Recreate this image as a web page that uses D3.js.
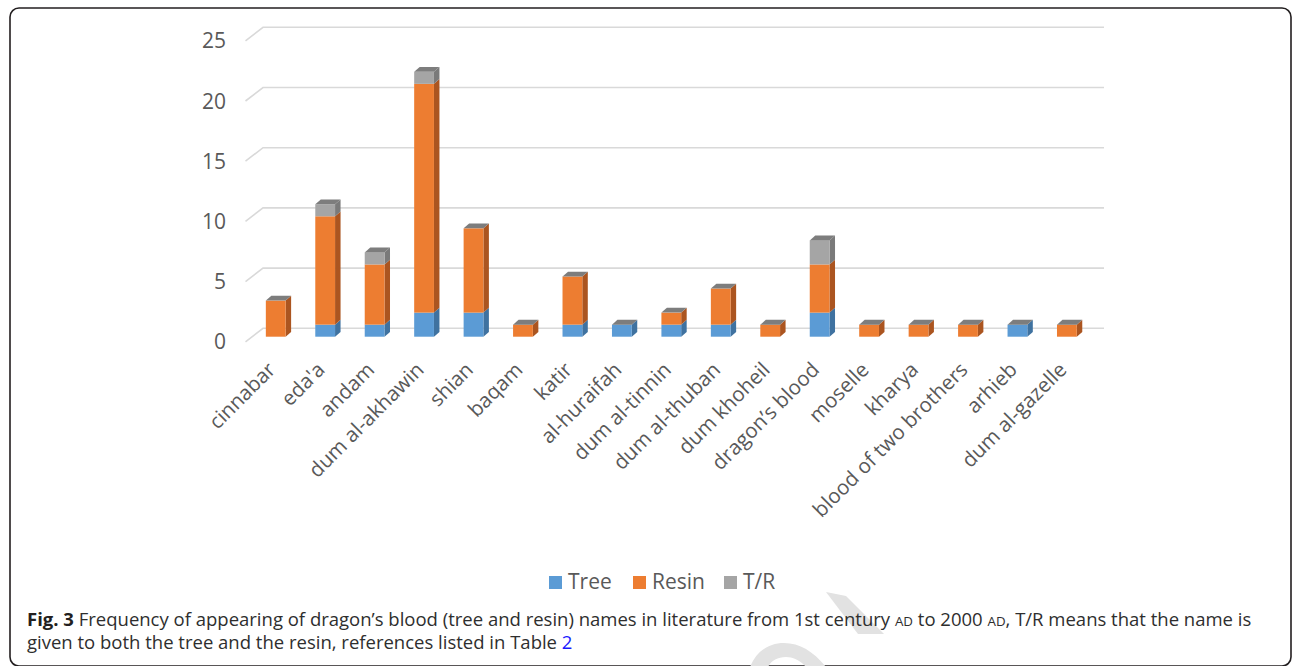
<!DOCTYPE html>
<html>
<head>
<meta charset="utf-8">
<script src="https://cdn.jsdelivr.net/npm/d3@7/dist/d3.min.js"></script>
<style>
  html, body { margin: 0; padding: 0; background: #fff; }
  svg { display: block; }
  text { font-family: "Open Sans", "Noto Sans", sans-serif; }
</style>
</head>
<body>
<svg id="chart" width="1292" height="666"></svg>
<script>
// Names for dragon's blood found in the literature
const categories = ["cinnabar", "eda'a", "andam", "dum al-akhawin", "shian", "baqam", "katir",
  "al-huraifah", "dum al-tinnin", "dum al-thuban", "dum khoheil", "dragon\u2019s blood",
  "moselle", "kharya", "blood of two brothers", "arhieb", "dum al-gazelle"];
const treeCounts  = [0, 1, 1, 2, 2, 0, 1, 1, 1, 1, 0, 2, 0, 0, 0, 1, 0];
const resinCounts = [3, 9, 5, 19, 7, 1, 4, 0, 1, 3, 1, 4, 1, 1, 1, 0, 1];
const trCounts    = [0, 1, 1, 1, 0, 0, 0, 0, 0, 0, 0, 2, 0, 0, 0, 0, 0];
const seriesNames = ["Tree", "Resin", "T/R"];
const yTicks = [0, 5, 10, 15, 20, 25];

const colors = {
  "Tree":  { front: "#5b9bd5", side: "#3f72a0" },
  "Resin": { front: "#ed7d31", side: "#ab5520" },
  "T/R":   { front: "#a5a5a5", side: "#7a7a7a" }
};
const topColor = "#7d7d7d";

const svg = d3.select("#chart");

// Frame around the figure
svg.append("rect")
  .attr("x", 10).attr("y", 8).attr("width", 1281).attr("height", 658)
  .attr("rx", 9).attr("ry", 9)
  .attr("fill", "none").attr("stroke", "#231f20").attr("stroke-width", 1.6);

// Stacked table
const table = categories.map((c, i) => ({ name: c, "Tree": treeCounts[i], "Resin": resinCounts[i], "T/R": trCounts[i] }));
const stacked = d3.stack().keys(seriesNames)(table);

// Scales: back wall and the plane where the bars stand
const yWall = d3.scaleLinear().domain([0, 25]).range([328.3, 27.3]);
const yBar  = d3.scaleLinear().domain([0, 25]).range([336.7, 35.7]);
const x = d3.scaleBand().domain(categories).range([251, 1091.6])
  .paddingInner(0.6).paddingOuter(0.3);

const wall = { x0: 263, x1: 1104, dx: 17.5, dy: 13.5 };
const depth = { dx: 5.5, dy: 4.8 };

// Gridlines on the back wall plus the slanted side-wall segment
const grid = svg.append("g").attr("fill", "none").attr("stroke", "#d9d9d9").attr("stroke-width", 1.6);
yTicks.forEach(t => {
  const yy = yWall(t);
  grid.append("path")
    .attr("d", `M${wall.x0 - wall.dx},${yy + wall.dy}L${wall.x0},${yy}L${wall.x1},${yy}`);
});

// Value axis labels
svg.append("g").selectAll("text").data(yTicks).join("text")
  .attr("x", 226).attr("y", d => yWall(d) + wall.dy)
  .attr("dy", "0.36em")
  .attr("text-anchor", "end")
  .attr("font-size", 21).attr("fill", "#595959")
  .text(d => d);

// 3D stacked columns
const bars = svg.append("g");
stacked.forEach(layer => {
  const key = layer.key;
  layer.forEach((seg, i) => {
    if (seg[1] - seg[0] <= 0) return;
    const x0 = x(categories[i]), w = x.bandwidth();
    const yt = yBar(seg[1]), yb = yBar(seg[0]);
    bars.append("path")
      .attr("d", `M${x0 + w},${yb}L${x0 + w + depth.dx},${yb - depth.dy}L${x0 + w + depth.dx},${yt - depth.dy}L${x0 + w},${yt}Z`)
      .attr("fill", colors[key].side);
    bars.append("rect")
      .attr("x", x0).attr("y", yt).attr("width", w).attr("height", yb - yt)
      .attr("fill", colors[key].front);
  });
});
// Top faces of each column
const totals = table.map(d => d["Tree"] + d["Resin"] + d["T/R"]);
bars.selectAll("path.top").data(categories).join("path")
  .attr("class", "top")
  .attr("fill", topColor)
  .attr("d", (c, i) => {
    const x0 = x(c), w = x.bandwidth(), yt = yBar(totals[i]);
    return `M${x0},${yt}L${x0 + depth.dx},${yt - depth.dy}L${x0 + w + depth.dx},${yt - depth.dy}L${x0 + w},${yt}Z`;
  });

// Category labels, slanted
svg.append("g").selectAll("text").data(categories).join("text")
  .attr("transform", d => `translate(${x(d) + x.bandwidth() / 2 + 1},${371}) rotate(-45)`)
  .attr("text-anchor", "end")
  .attr("font-size", 20.5).attr("fill", "#595959")
  .text(d => d);

// Legend
const legendX = [549, 633, 724];
const legend = svg.append("g").selectAll("g").data(seriesNames).join("g")
  .attr("transform", (d, i) => `translate(${legendX[i]},576)`);
legend.append("rect").attr("width", 13).attr("height", 13).attr("fill", d => colors[d].front);
legend.append("text").attr("x", 19).attr("y", 13)
  .attr("font-size", 21).attr("fill", "#595959").text(d => d);

// Faint watermark strokes behind the caption
const wm = svg.append("g").attr("fill", "#e2e2e2");
wm.append("path").attr("d", "M826,592L846,596L884,634L858,634Z");
wm.append("path").attr("d", "M750,667C756,652 768,643 784,643C800,643 814,652 826,667L806,667C800,660 793,657 786,657C777,657 771,661 768,667Z");

// Caption
const cap = svg.append("g").attr("fill", "#2e2e2e");
const line1 = cap.append("text").attr("x", 27).attr("y", 625.5);
line1.append("tspan").attr("font-weight", "bold").attr("fill", "#231f20").text("Fig. 3");
line1.append("tspan").text(" Frequency of appearing of dragon\u2019s blood (tree and resin) names in literature from 1st century ");
line1.append("tspan").attr("class", "sc").text("AD");
line1.append("tspan").text(" to 2000 ");
line1.append("tspan").attr("class", "sc").text("AD");
line1.append("tspan").text(", T/R means that the name is");
const line2 = cap.append("text").attr("x", 27).attr("y", 649);
line2.append("tspan").text("given to both the tree and the resin, references listed in Table ");
line2.append("tspan").attr("fill", "#1a1aff").text("2");

// Fit the caption's first line to the figure width
function setCaptionSize(s) {
  cap.selectAll("text").attr("font-size", s);
  cap.selectAll("tspan.sc").attr("font-size", s * 0.72);
}
setCaptionSize(17);
const wNow = line1.node().getComputedTextLength();
setCaptionSize(17 * 1225 / wNow);
</script>
</body>
</html>
